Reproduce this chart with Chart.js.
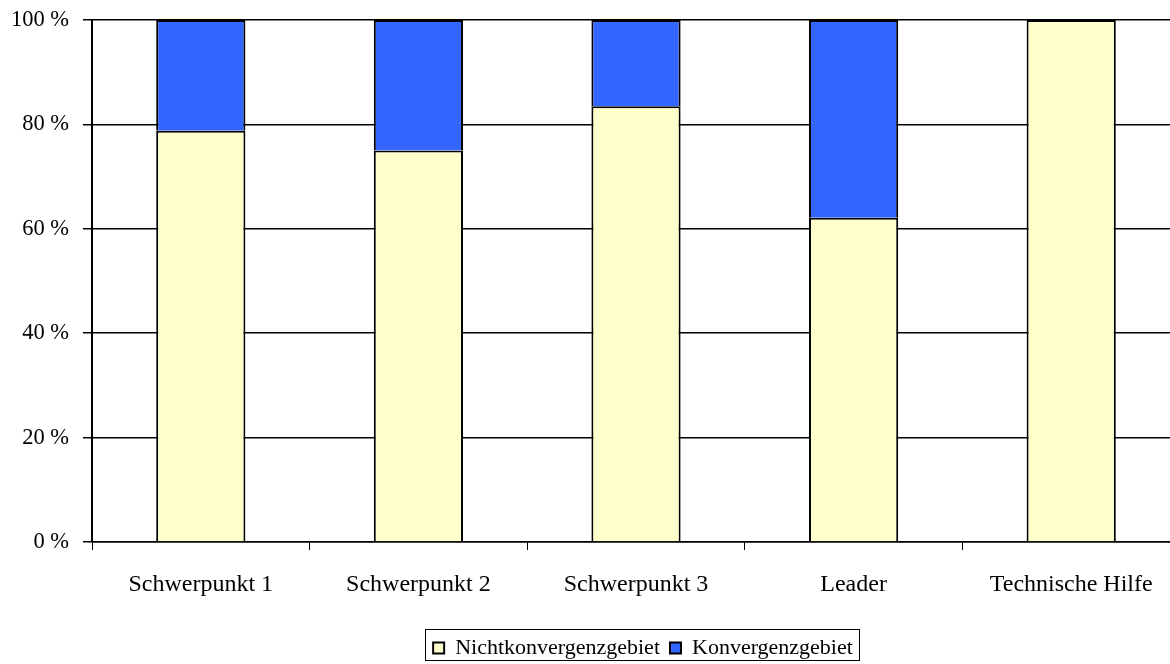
<!DOCTYPE html>
<html>
<head>
<meta charset="utf-8">
<script src="https://cdn.jsdelivr.net/npm/chart.js@4/dist/chart.umd.min.js"></script>
<style>
  html, body { margin: 0; padding: 0; background: #fff; overflow: hidden; }
  #wrap { width: 1202px; height: 664px; position: relative; }
</style>
</head>
<body>
<div id="wrap"><canvas id="myChart"></canvas></div>
<script>
// data
var categories = ['Schwerpunkt 1', 'Schwerpunkt 2', 'Schwerpunkt 3', 'Leader', 'Technische Hilfe'];
var nichtkonvergenz = [78.8, 75.0, 83.5, 62.1, 100];
var konvergenz = [21.2, 25.0, 16.5, 37.9, 0];
var yTicks = [0, 20, 40, 60, 80, 100];

Chart.defaults.font.family = '"Liberation Serif", "Times New Roman", serif';
Chart.defaults.font.size = 22;
Chart.defaults.color = '#000';

// the legend in the original sits a bit right of the middle, with a frame round it
var legendFrame = {
    id: 'legendFrame',
    afterLayout: function (chart) {
        var lg = chart.legend;
        var shift = 643 - (lg.left + lg.right) / 2;
        lg.left += shift;
        lg.right += shift;
    },
    afterDraw: function (chart) {
        var boxes = chart.legend.legendHitBoxes;
        if (!boxes || !boxes.length) return;
        var x1 = Infinity, y1 = Infinity, x2 = -Infinity, y2 = -Infinity;
        boxes.forEach(function (b) {
            x1 = Math.min(x1, b.left);
            y1 = Math.min(y1, b.top);
            x2 = Math.max(x2, b.left + b.width);
            y2 = Math.max(y2, b.top + b.height);
        });
        var c = chart.ctx;
        c.save();
        c.strokeStyle = '#000';
        c.lineWidth = 1;
        var l = Math.round(x1 - 8), t = Math.round(y1 - 8);
        c.strokeRect(l + 0.5, t + 0.5, Math.round(x2 + 6) - l, Math.round(y2 + 1) - t);
        c.restore();
    }
};

var ctx = document.getElementById('myChart').getContext('2d');
var myChart = new Chart(ctx, {
    type: 'bar',
    data: {
        labels: categories,
        datasets: [{
            label: 'Nichtkonvergenzgebiet',
            data: nichtkonvergenz,
            backgroundColor: '#FFFFCC',
            borderColor: '#000',
            borderWidth: 2
        },
        {
            label: 'Konvergenzgebiet',
            data: konvergenz,
            backgroundColor: '#3366FF',
            borderColor: '#000',
            borderWidth: 2
        }]
    },
    options: {
        responsive: true,
        maintainAspectRatio: false,
        animation: false,
        datasets: {
            bar: { categoryPercentage: 1, barPercentage: 0.41 }
        },
        layout: {
            padding: { top: 20, left: 0, right: 22, bottom: -5 }
        },
        plugins: {
            tooltip: { enabled: false },
            legend: {
                position: 'bottom',
                labels: {
                    boxWidth: 11,
                    boxHeight: 11,
                    padding: 10,
                    font: { size: 22 }
                }
            }
        },
        scales: {
            x: {
                stacked: true,
                afterFit: function (scale) { scale.height = 85; },
                grid: {
                    offset: true,
                    drawOnChartArea: false,
                    drawTicks: true,
                    tickLength: 8,
                    color: '#000',
                    lineWidth: 1
                },
                border: { color: '#000', width: 1.5 },
                ticks: { padding: 20, maxRotation: 0, font: { size: 24 } }
            },
            y: {
                stacked: true,
                min: 0,
                max: 100,
                afterFit: function (scale) {
                    scale.width = 92;
                    scale.paddingTop = 0;
                    scale.paddingBottom = 0;
                },
                afterBuildTicks: function (scale) {
                    scale.ticks = yTicks.map(function (v) { return { value: v }; });
                },
                grid: {
                    color: '#000',
                    lineWidth: 1.5,
                    tickLength: 9
                },
                border: { color: '#000', width: 2 },
                ticks: {
                    padding: 14,
                    font: { size: 22.5 },
                    callback: function (v) { return v + ' %'; }
                }
            }
        }
    },
    plugins: [legendFrame]
});
</script>
</body>
</html>
